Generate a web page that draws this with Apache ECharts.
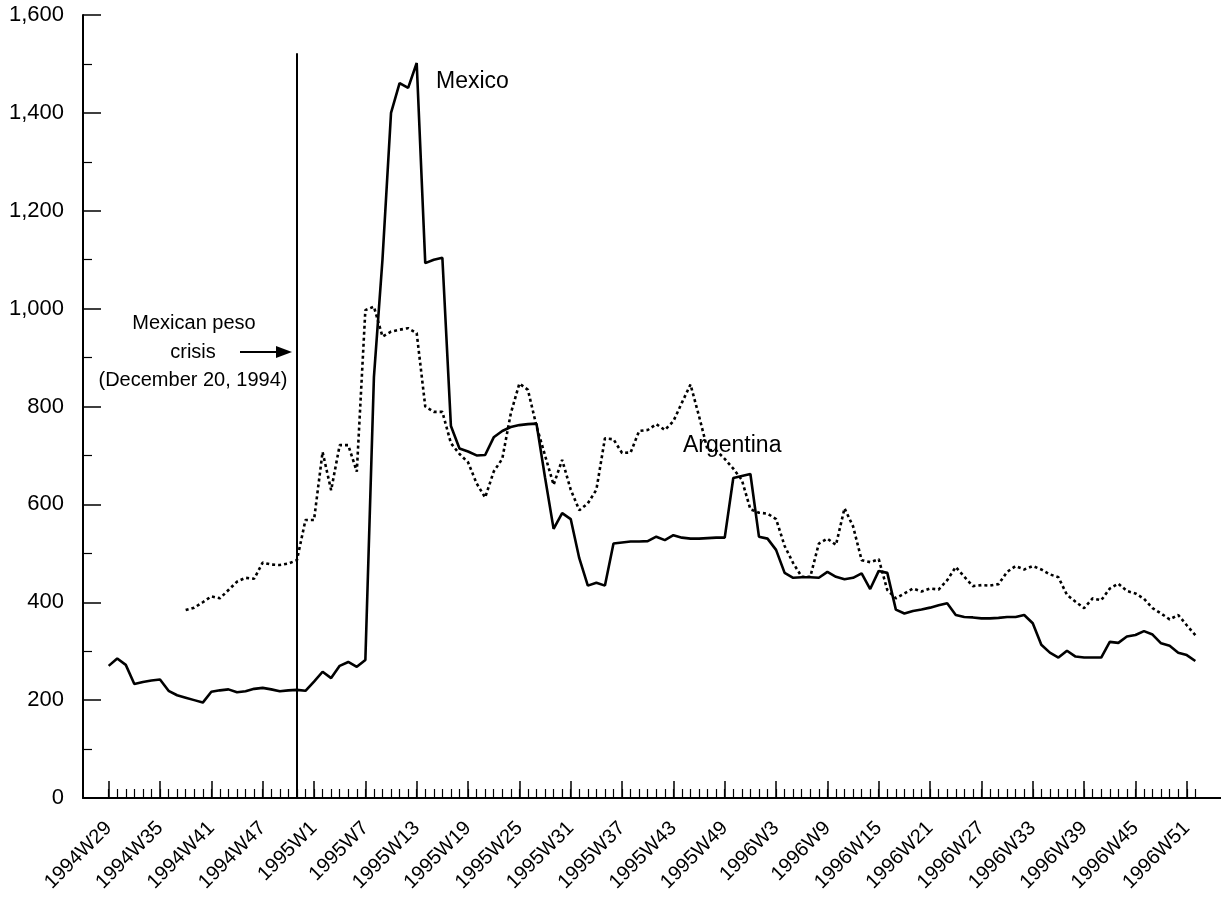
<!DOCTYPE html>
<html>
<head>
<meta charset="utf-8">
<script src="https://cdn.jsdelivr.net/npm/echarts@6/dist/echarts.min.js"></script>
<style>
html,body{margin:0;padding:0;background:#fff;}
#chart{width:1221px;height:900px;}
</style>
</head>
<body>
<div id="chart"></div>
<script>
// Weekly categories 1994W29 .. 1996W52 (indices 0..127), with blank padding weeks on both ends
const padBefore = ['1994W26', '1994W27', '1994W28'];
const padAfter = ['1997W1', '1997W2', '1997W3'];
const weeks = [];
for (let w = 29; w <= 52; w++) weeks.push('1994W' + w);
for (let w = 1; w <= 52; w++) weeks.push('1995W' + w);
for (let w = 1; w <= 52; w++) weeks.push('1996W' + w);
const categories = padBefore.concat(weeks, padAfter);

// Labeled weeks (every 6 weeks)
const tickLabels = ['1994W29','1994W35','1994W41','1994W47','1995W1','1995W7','1995W13','1995W19',
  '1995W25','1995W31','1995W37','1995W43','1995W49','1996W3','1996W9','1996W15','1996W21',
  '1996W27','1996W33','1996W39','1996W45','1996W51'];

const yTicks = [0, 200, 400, 600, 800, 1000, 1200, 1400, 1600];

// Mexico spread (solid), weeks 1994W29 .. 1996W52
const mexico = [
  270, 285, 272, 233, 237, 240, 242, 219, 210, 205,
  200, 195, 217, 220, 222, 216, 218, 223, 225, 222,
  218, 220, 221, 219, 238, 258, 245, 270, 278, 268,
  282, 860, 1100, 1400, 1461, 1451, 1502, 1093, 1100, 1104,
  760, 714, 708, 700, 701, 737, 750, 758, 762, 764,
  765, 655, 550, 582, 570, 490, 434, 440, 434, 520,
  522, 524, 524, 525, 534, 527, 537, 532, 530, 530,
  531, 532, 532, 654, 658, 662, 534, 530, 507, 460,
  450, 451, 451, 450, 462, 452, 447, 450, 459, 427,
  464, 460, 385, 377, 382, 385, 389, 394, 398, 374,
  370, 369, 367, 367, 368, 370, 370, 374, 357, 313,
  297, 287, 301, 289, 287, 287, 287, 319, 317, 330,
  333, 341, 334, 316, 311, 297, 292, 280
];

// Argentina spread (dotted), weeks 1994W29 .. 1996W52 (no data before 1994W38)
const argentina = [
  null, null, null, null, null, null, null, null, null, 384,
  389, 400, 412, 408, 425, 442, 450, 448, 481, 477,
  476, 479, 486, 568, 568, 707, 629, 721, 721, 667,
  997, 1004, 943, 953, 957, 960, 950, 800, 789, 789,
  725, 703, 686, 643, 614, 667, 693, 786, 847, 834,
  760, 700, 640, 691, 630, 588, 602, 630, 735, 733,
  705, 706, 750, 752, 764, 752, 770, 808, 845, 780,
  711, 710, 693, 673, 650, 590, 583, 581, 570, 515,
  480, 452, 452, 520, 530, 517, 592, 555, 486, 482,
  488, 425, 408, 418, 428, 422, 428, 426, 445, 472,
  452, 433, 435, 434, 437, 462, 474, 467, 474, 467,
  457, 451, 415, 401, 388, 408, 404, 428, 438, 423,
  418, 407, 388, 377, 365, 374, 353, 333
];

const crisisWeek = '1994W51';
const crisisLineTop = 1522;

const padN = padBefore.length;
const pad = arr => new Array(padN).fill(null).concat(arr, new Array(padAfter.length).fill(null));

const FONT = '"Liberation Sans", Arial, sans-serif';
const isLabel = (i, v) => tickLabels.indexOf(categories[i]) >= 0;
const isWeek = (i, v) => i >= padN && i < padN + weeks.length;

const chart = echarts.init(document.getElementById('chart'), null, {renderer: 'canvas'});
chart.setOption({
  animation: false,
  backgroundColor: '#fff',
  grid: {left: 83, right: 0, top: 15, bottom: 102, containLabel: false},
  xAxis: [{
    type: 'category',
    data: categories,
    boundaryGap: false,
    axisLine: {show: true, lineStyle: {color: '#000', width: 2}},
    axisTick: {show: true, inside: true, length: 17, interval: isLabel, lineStyle: {color: '#000', width: 1.5}},
    axisLabel: {show: true, interval: isLabel, rotate: 45, margin: 27, color: '#000',
      fontFamily: FONT, fontSize: 20},
    splitLine: {show: false}
  }, {
    type: 'category',
    data: categories,
    boundaryGap: false,
    position: 'bottom',
    axisLine: {show: false},
    axisTick: {show: true, inside: true, length: 9, interval: isWeek, lineStyle: {color: '#000', width: 1.2}},
    axisLabel: {show: false},
    splitLine: {show: false}
  }],
  yAxis: {
    type: 'value',
    min: 0, max: 1600, interval: 200,
    axisLine: {show: true, lineStyle: {color: '#000', width: 2}},
    axisTick: {show: true, inside: true, length: 18, lineStyle: {color: '#000', width: 1.5}},
    minorTick: {show: true, splitNumber: 2, length: 9, lineStyle: {color: '#000', width: 1.2}},
    axisLabel: {color: '#000', fontFamily: FONT, fontSize: 22, margin: 19,
      formatter: v => yTicks.indexOf(v) >= 0 ? v.toLocaleString('en-US') : ''},
    splitLine: {show: false}
  },
  series: [{
    name: 'Mexico',
    type: 'line',
    data: pad(mexico),
    xAxisIndex: 0,
    showSymbol: false,
    symbol: 'none',
    connectNulls: false,
    lineStyle: {color: '#000', width: 2.6, type: 'solid'},
    markLine: {
      silent: true,
      symbol: ['none', 'none'],
      label: {show: false},
      lineStyle: {color: '#000', width: 2, type: 'solid'},
      data: [[{coord: [crisisWeek, 0]}, {coord: [crisisWeek, crisisLineTop]}]]
    },
    z: 3
  }, {
    name: 'Argentina',
    type: 'line',
    data: pad(argentina),
    xAxisIndex: 0,
    showSymbol: false,
    symbol: 'none',
    connectNulls: false,
    lineStyle: {color: '#000', width: 2.6, type: [3, 3]},
    z: 2
  }],
  graphic: [
    {type: 'text', left: 436, top: 70, style: {text: 'Mexico', fill: '#000', font: '23px ' + FONT}},
    {type: 'text', left: 683, top: 434, style: {text: 'Argentina', fill: '#000', font: '23px ' + FONT}},
    {type: 'text', x: 194, y: 313, style: {text: 'Mexican peso', fill: '#000', font: '20px ' + FONT, align: 'center', verticalAlign: 'top'}},
    {type: 'text', x: 193, y: 342, style: {text: 'crisis', fill: '#000', font: '20px ' + FONT, align: 'center', verticalAlign: 'top'}},
    {type: 'text', x: 193, y: 370, style: {text: '(December 20, 1994)', fill: '#000', font: '20px ' + FONT, align: 'center', verticalAlign: 'top'}},
    {type: 'line', shape: {x1: 240, y1: 352, x2: 280, y2: 352}, style: {stroke: '#000', lineWidth: 2}},
    {type: 'polygon', shape: {points: [[292, 352], [276, 346], [276, 358]]}, style: {fill: '#000'}}
  ]
});
</script>
</body>
</html>
